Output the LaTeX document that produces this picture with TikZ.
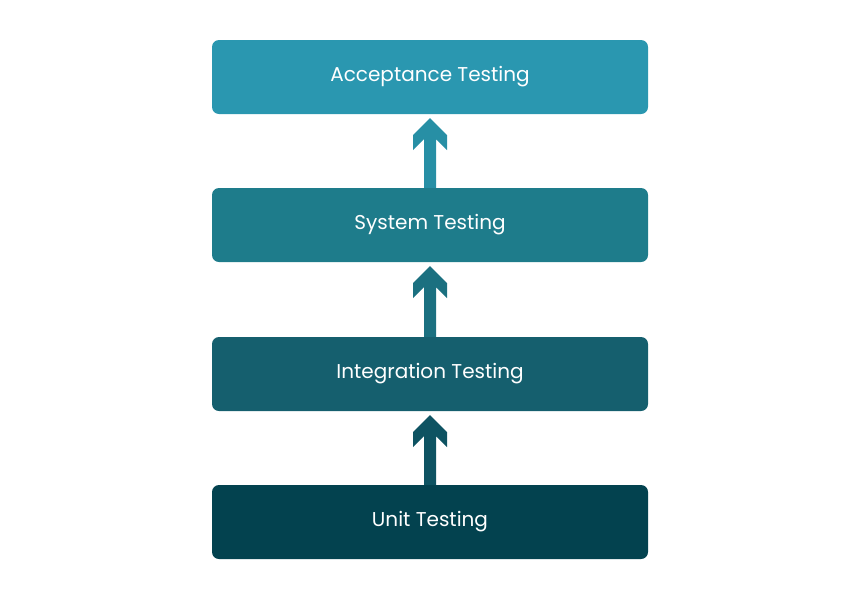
\documentclass[tikz,border=0pt]{standalone}
\usepackage{fontspec}
\usetikzlibrary{calc}
\setmainfont{Poppins}
\definecolor{cA}{HTML}{2A97B0}
\definecolor{cB}{HTML}{1E7C8B}
\definecolor{cC}{HTML}{155F6E}
\definecolor{cD}{HTML}{03424F}
\begin{document}
\begin{tikzpicture}[x=1pt,y=-1pt,
  stage/.style={rounded corners=7pt,minimum width=436pt,minimum height=74pt,inner sep=0pt,text=white,font=\fontsize{20}{24}\selectfont}]
\useasboundingbox (0,0) rectangle (861,600);
\node[stage,fill=cA] (acc) at (430,77) {Acceptance Testing};
\node[stage,fill=cB] (sys) at (430,225) {System Testing};
\node[stage,fill=cC] (int) at (430,374) {Integration Testing};
\node[stage,fill=cD] (unit) at (430,522) {Unit Testing};
\foreach \lo/\hi/\c in {sys/acc/cA!70!cB,int/sys/cB!60!cC,unit/int/cC!60!cD}{
  \path (\hi.south) ++(0,4) coordinate (t);
  \path (\lo.north) coordinate (b);
  \fill[\c] (t) -- ++(17,17) -- ++(0,15) -- ++(-11,-11) -- ($(b)+(6,0)$) -- ($(b)+(-6,0)$) -- ($(t)+(-6,21)$) -- ++(-11,11) -- ++(0,-15) -- cycle;
}
\end{tikzpicture}
\end{document}
